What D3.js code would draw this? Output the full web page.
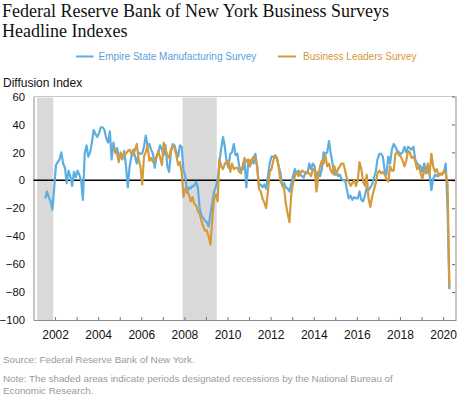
<!DOCTYPE html>
<html>
<head>
<meta charset="utf-8">
<script src="https://cdn.jsdelivr.net/npm/d3@7"></script>
<style>
  body { margin: 0; background: #fff; }
  svg { display: block; }
  .title { font-family: 'Liberation Serif', 'Times New Roman', serif; font-size: 18px; fill: #111; }
  .sans { font-family: 'Liberation Sans', Arial, sans-serif; }
</style>
</head>
<body>
<div id="chart"></div>
<script>
// Empire State Manufacturing Survey, monthly from Jul 2001
var empireStart = [2001, 7];
var empireValues = [
  -13, -8, -12, -15, -21, -6,
  11, 13, 15, 20, 12, 9, -2, 7, 3, -4, 6, 2,
  7, 4, 0, -14, 19, 25, 17, 20, 27, 36, 33, 31,
  34, 38, 38, 36, 30, 27, 35, 15, 27, 20, 23, 17,
  17, 15, 21, 10, -5, 10, 17, 22, 17, 12, 20, 19,
  19, 24, 32, 25, 26, 22, 19, 9, 17, 20, 25, 22,
  18, 25, 10, 6, 20, 26, 25, 20, 17, 25, 24, 7,
  3, -9, -5, -6, -4, -4, -1, -5, -20, -25, -27, -29,
  -30, -33, -24, -16, -8, -5, 1, 13, 23, 31, 24, 13,
  9, 19, 20, 26, 18, 19, 10, 7, 8, 13, -5, 12,
  14, 15, 12, 19, 10, -4, -3, -5, -3, -6, 3, 12,
  17, 17, 16, 16, 10, 5, -4, -2, -5, -6, -8, -2,
  3, 8, 5, 7, 4, 3, 2, 6, 5, 12, 8, 12,
  10, 2, 6, 3, 8, 20, 19, 20, 28, 19, 12, 4,
  7, 3, 4, 1, 0, 0, -7, -13, -11, -14, -12, -13,
  -13, -8, -14, -15, -11, -5, -7, -5, -3, 2, 6, 15,
  19, 19, 17, 7, 4, 17, 12, 22, 26, 24, 21, 20,
  19, 20, 24, 20, 24, 23, 22, 24, 15, 12, 11, 10,
  6, 12, 5, 7, 4, -7, 1, 4, 3, 4, 4, 5,
  6, 12, -21, -78
];

// Business Leaders Survey, monthly from Sep 2004
var leadersStart = [2004, 9];
var leadersValues = [
  23, 20, 19, 13,
  20, 16, 19, 19, 21, 22, 19, 18, 22, 26, 15, 10,
  -3, 17, 20, 25, 14, 16, 13, 15, 17, 21, 16, 11,
  27, 22, 18, 16, 22, 25, 23, 18, 11, 13, 6, -12,
  -6, -8, -10, -15, -12, -17, -18, -22, -24, -29, -33, -36,
  -36, -40, -46, -28, -13, -10, -15, 15, 10, 8, 12, 13,
  14, 6, 12, 8, 9, 9, 6, 5, 11, 16, 13, 15,
  10, 14, 17, 16, 10, -6, -8, -13, -16, -20, -8, 6,
  8, 14, 18, 16, 9, -1, -3, -6, -17, -24, -30, -10,
  -2, 3, 6, 3, 5, 7, 6, 5, 6, 5, 3, 8,
  8, -8, 2, 10, 14, 12, 18, 10, 12, 7, 5, 10,
  4, 8, 10, 12, 12, 7, 1, -1, -4, -2, 0, -4,
  0, 13, 8, -1, -4, 4, -13, -19, -12, -7, -2, 5,
  7, 5, 6, 4, 1, -1, 10, 7, 7, 19, 20, 18,
  17, 14, 10, 14, 21, 20, 16, 17, 14, 8, 10, 5,
  1, 7, 6, 12, 4, 19, 10, 6, 8, 3, 5, 4,
  7, 5, -2, -76
];

// NBER recessions: [start year, start month, end year, end month]
var recessions = [[2001, 3, 2001, 11], [2007, 12, 2009, 6]];

var yTicks = [60, 40, 20, 0, -20, -40, -60, -80, -100];
var yearTicks = d3.range(2002, 2021);
var yearLabels = [2002, 2004, 2006, 2008, 2010, 2012, 2014, 2016, 2018, 2020];

var seriesNames = ['Empire State Manufacturing Survey', 'Business Leaders Survey'];
var seriesColors = ['#5caee2', '#d59a3b'];
var legendTextColors = ['#5b9fd8', '#d4973c'];

var width = 460, height = 396;
var margin = { left: 33.5, right: 456, top: 96.5, bottom: 320 };

var svg = d3.select('#chart').append('svg')
  .attr('width', width)
  .attr('height', height);

// decimal year for middle of a month
function monthPos(start, i) {
  return start[0] + (start[1] - 1 + i + 0.5) / 12;
}

var x = d3.scaleLinear()
  .domain([2001, 2020.6])
  .range([margin.left, margin.right]);

var y = d3.scaleLinear()
  .domain([-100, 60])
  .range([margin.bottom, margin.top]);

// title
svg.append('text').attr('class', 'title').attr('x', 2).attr('y', 17)
  .text('Federal Reserve Bank of New York Business Surveys');
svg.append('text').attr('class', 'title').attr('x', 2).attr('y', 37)
  .text('Headline Indexes');

// legend
var legendX = [[76, 93.5, 98.5], [278, 296, 303]];
seriesNames.forEach(function(name, i) {
  svg.append('line')
    .attr('x1', legendX[i][0]).attr('x2', legendX[i][1])
    .attr('y1', 56.5).attr('y2', 56.5)
    .attr('stroke', seriesColors[i]).attr('stroke-width', 2);
  svg.append('text').attr('class', 'sans')
    .attr('x', legendX[i][2]).attr('y', 60)
    .style('font-size', '10px')
    .attr('fill', legendTextColors[i])
    .text(name);
});

svg.append('text').attr('class', 'sans')
  .attr('x', 3).attr('y', 87)
  .style('font-size', '12px').attr('fill', '#111')
  .text('Diffusion Index');

// recession shading
svg.selectAll('rect.rec')
  .data(recessions)
  .enter().append('rect')
  .attr('class', 'rec')
  .attr('x', function(d) { return x(d[0] + (d[1] - 1) / 12); })
  .attr('width', function(d) { return x(d[2] + d[3] / 12) - x(d[0] + (d[1] - 1) / 12); })
  .attr('y', margin.top + 1)
  .attr('height', margin.bottom - margin.top - 1)
  .attr('fill', '#d9d9d9');

// frame: top and right borders
svg.append('line')
  .attr('x1', margin.left).attr('x2', margin.right)
  .attr('y1', margin.top).attr('y2', margin.top)
  .attr('stroke', '#c8c8c8');
svg.append('line')
  .attr('x1', margin.right).attr('x2', margin.right)
  .attr('y1', margin.top).attr('y2', margin.bottom)
  .attr('stroke', '#c4c4c4').attr('stroke-width', 2);

// left axis labels
var yAxis = svg.append('g')
  .attr('transform', 'translate(' + margin.left + ',0)')
  .call(d3.axisLeft(y).tickValues(yTicks).tickSize(0).tickPadding(8.5));
yAxis.select('.domain').attr('stroke', '#8c8c8c');
yAxis.selectAll('text')
  .attr('class', 'sans')
  .style('font-size', '11.3px')
  .attr('fill', '#111');

// right axis ticks (inward)
var yRight = svg.append('g')
  .attr('transform', 'translate(' + (margin.right - 1) + ',0)')
  .call(d3.axisRight(y).tickValues(yTicks).tickSize(-3).tickFormat(''));
yRight.select('.domain').remove();
yRight.selectAll('line').attr('stroke', '#666');

// bottom axis
var xAxis = svg.append('g')
  .attr('transform', 'translate(0,' + margin.bottom + ')')
  .call(d3.axisBottom(x).tickValues(yearTicks).tickSizeInner(-3).tickSizeOuter(0).tickPadding(10)
    .tickFormat(function(d) { return yearLabels.indexOf(d) >= 0 ? d : ''; }));
xAxis.select('.domain').attr('stroke', '#8c8c8c');
xAxis.selectAll('line').attr('stroke', '#777');
xAxis.selectAll('text')
  .attr('class', 'sans')
  .style('font-size', '12px')
  .attr('fill', '#111');

// zero line
svg.append('line')
  .attr('x1', margin.left).attr('x2', margin.right - 1)
  .attr('y1', y(0)).attr('y2', y(0))
  .attr('stroke', '#000').attr('stroke-width', 1.5);

// series lines
var line = d3.line()
  .x(function(d) { return x(d.t); })
  .y(function(d) { return y(d.v); });

var series = [
  empireValues.map(function(v, i) { return { t: monthPos(empireStart, i), v: v }; }),
  leadersValues.map(function(v, i) { return { t: monthPos(leadersStart, i), v: v }; })
];

series.forEach(function(data, i) {
  svg.append('path')
    .datum(data)
    .attr('fill', 'none')
    .attr('stroke', seriesColors[i])
    .attr('stroke-width', 2.2)
    .attr('stroke-linejoin', 'round')
    .attr('d', line);
});

// notes
var notes = [
  ['Source: Federal Reserve Bank of New York.', 363],
  ['Note: The shaded areas indicate periods designated recessions by the National Bureau of', 382],
  ['Economic Research.', 394]
];
notes.forEach(function(n) {
  svg.append('text').attr('class', 'sans')
    .attr('x', 3).attr('y', n[1])
    .style('font-size', '9.8px')
    .attr('fill', '#9a9a9a')
    .text(n[0]);
});
</script>
</body>
</html>
